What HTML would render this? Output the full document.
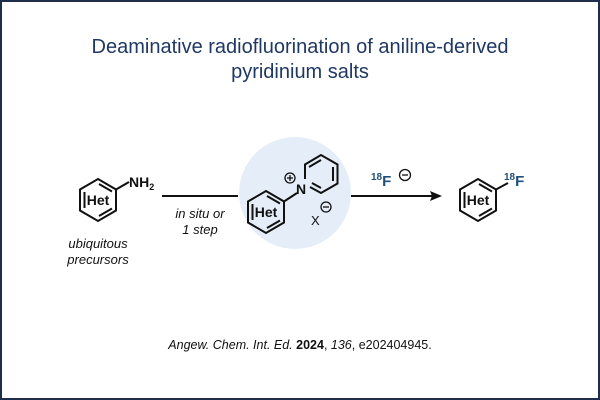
<!DOCTYPE html>
<html><head><style>
html,body{margin:0;padding:0;background:#fff}
svg{display:block}
text{font-family:"Liberation Sans",Arial,sans-serif}
</style></head><body>
<svg width="600" height="400" viewBox="0 0 600 400" xmlns="http://www.w3.org/2000/svg">
<rect x="1" y="1" width="598" height="398" fill="#fff" stroke="#1f2d4d" stroke-width="2"/>
<text x="300" y="53" font-size="20" fill="#1f3864" text-anchor="middle">Deaminative radiofluorination of aniline-derived</text>
<text x="300" y="78" font-size="20" fill="#1f3864" text-anchor="middle">pyridinium salts</text>
<circle cx="295" cy="193" r="56" fill="#e5eef8"/>
<g stroke="#111" stroke-width="2" fill="none">
 <polygon points="98,179 116,189.5 116,210.5 98,221 80,210.5 80,189.5"/>
 <line x1="84.5" y1="192" x2="84.5" y2="208"/>
 <line x1="99" y1="216" x2="112" y2="208.5"/>
 <line x1="99" y1="184" x2="112" y2="191.5"/>
 <line x1="116" y1="189.5" x2="129" y2="182"/>
 <line x1="162" y1="196" x2="238" y2="196"/>
 <polygon points="266,191 284,201.5 284,222.5 266,233 248,222.5 248,201.5"/>
 <line x1="252.5" y1="204" x2="252.5" y2="220"/>
 <line x1="267" y1="228" x2="280" y2="220.5"/>
 <line x1="267" y1="196" x2="280" y2="203.5"/>
 <line x1="284" y1="201.5" x2="297" y2="193"/>
 <polyline points="310,187 321,193 337.5,183.5 337.5,164.5 321,155 305,164.5 305,179"/>
 <line x1="333" y1="167" x2="333" y2="181"/>
 <line x1="321" y1="160" x2="309" y2="167"/>
 <line x1="321" y1="188" x2="312" y2="183"/>
 <line x1="351" y1="196" x2="432" y2="196"/>
 <polygon points="478,179 496,189.5 496,210.5 478,221 460,210.5 460,189.5"/>
 <line x1="464.5" y1="192" x2="464.5" y2="208"/>
 <line x1="479" y1="216" x2="492" y2="208.5"/>
 <line x1="479" y1="184" x2="492" y2="191.5"/>
 <line x1="496" y1="189.5" x2="508" y2="183"/>
 <circle cx="290" cy="178" r="5" stroke-width="1.3"/>
 <line x1="287" y1="178" x2="293" y2="178" stroke-width="1.3"/>
 <line x1="290" y1="175" x2="290" y2="181" stroke-width="1.3"/>
 <circle cx="326" cy="207" r="5" stroke-width="1.3"/>
 <line x1="323" y1="207" x2="329" y2="207" stroke-width="1.3"/>
 <circle cx="405" cy="175" r="5.5" stroke-width="1.3"/>
 <line x1="402" y1="175" x2="408" y2="175" stroke-width="1.3"/>
</g>
<polygon points="442,196 430,191 432,196 430,201" fill="#111"/>
<g font-weight="bold" fill="#111" font-size="14" text-anchor="middle">
 <text x="98" y="205">Het</text>
 <text x="266" y="217">Het</text>
 <text x="478" y="205">Het</text>
</g>
<text x="129" y="187" font-size="14" font-weight="bold" fill="#111">NH<tspan font-size="9" dy="3">2</tspan></text>
<text x="301" y="194" font-size="14" font-weight="bold" fill="#111" text-anchor="middle">N</text>
<text x="311" y="225" font-size="13" fill="#111">X</text>
<text x="371" y="186" fill="#1f4e79" font-weight="bold"><tspan font-size="10" dy="-6">18</tspan><tspan font-size="15" dy="6">F</tspan></text>
<text x="504" y="186" fill="#1f4e79" font-weight="bold"><tspan font-size="10" dy="-6">18</tspan><tspan font-size="15" dy="6">F</tspan></text>
<g font-style="italic" font-size="13" fill="#111" text-anchor="middle">
 <text x="200" y="218">in situ or</text>
 <text x="200" y="234">1 step</text>
 <text x="98" y="248">ubiquitous</text>
 <text x="98" y="264">precursors</text>
</g>
<text x="300" y="349" font-size="12.5" fill="#111" text-anchor="middle"><tspan font-style="italic">Angew.  Chem. Int. Ed.</tspan> <tspan font-weight="bold">2024</tspan>, <tspan font-style="italic">136</tspan>, e202404945.</text>
</svg>
</body></html>
